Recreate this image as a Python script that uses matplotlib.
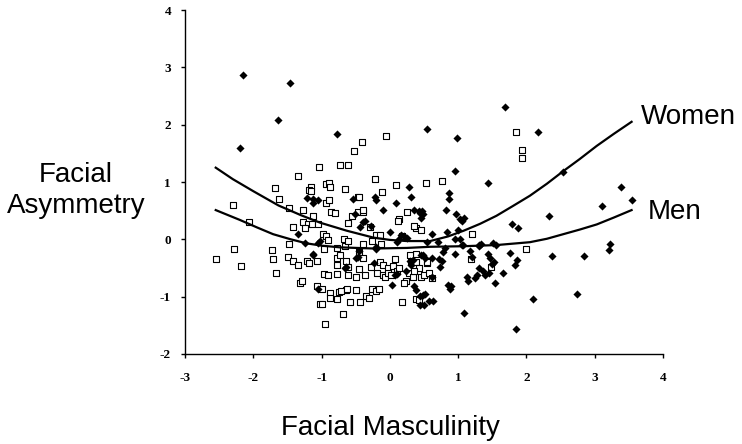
import matplotlib
matplotlib.use("Agg")
import matplotlib.pyplot as plt

plt.rcParams['axes.unicode_minus'] = False

# women (open squares): facial masculinity, facial asymmetry
women_x = [-2.55, -2.28, -2.18, -2.29, -2.07, -1.72, -1.71, -1.67, -1.68, -1.62, -1.47, -1.27,
           -1.42, -1.47, -1.49, -1.42, -1.34, -1.34, -1.04, -0.73, -0.61, -0.53, -0.41, -0.06,
           -1.16, -0.94, -0.89, -0.88, -1.19, -1.16, -0.66, -0.22, -0.12, 0.09, 0.53, 0.77,
           1.85, 1.93, 1.94, 1.20, 1.99, 1.19, -1.27, -1.20, -1.14, -1.12, -1.05, -1.25,
           -1.22, -1.07, -1.31, -1.28, -1.06, -1.00, -1.02, -1.00, -0.95, -0.96, -0.98, -0.93,
           -0.93, -0.89, -0.86, -0.81, -0.96, -0.90, -0.78, -0.78, -0.78, -0.73, -0.87, -0.78,
           -0.75, -0.67, -0.65, -0.64, -0.62, -0.62, -0.64, -0.59, -0.68, -0.62, -0.47, -0.46,
           -0.29, -0.39, -0.45, -0.39, -0.45, -0.36, -0.49, -0.49, -0.44, -0.35, -0.26, -0.27,
           -0.26, -0.20, -0.19, -0.14, -0.10, -0.10, -0.07, -0.03, -0.03, 0.02, 0.05, 0.07,
           0.10, 0.14, 0.14, 0.18, 0.24, 0.28, 0.34, 0.31, 0.25, 0.38, 0.39, 0.38, 0.45, 0.38,
           -0.45, -0.40, -0.56, 0.12, -0.14, 0.35, 0.46, -0.91, -0.77, -0.62, -0.40, -0.13,
           0.54, 0.42, 0.50, 0.58, 0.62, 0.35, 0.42, 0.21, -1.19, -0.71, -0.63, -0.87, -0.21,
           -0.16, -0.31, 0.18, 1.48, 0.30, 0.55]
women_y = [-0.34, -0.16, -0.47, 0.60, 0.31, -0.19, -0.35, -0.58, 0.90, 0.70, 0.55, 0.51,
           0.21, -0.08, -0.31, -0.37, -0.45, 1.10, 1.26, 1.29, 1.29, 1.54, 1.70, 1.80,
           0.92, 0.96, 0.99, 0.92, 0.86, 0.84, 0.87, 1.05, 0.83, 0.95, 0.99, 1.02,
           1.88, 1.56, 1.42, 0.10, -0.17, -0.35, 0.30, 0.27, 0.27, 0.41, 0.27, 0.20,
           -0.38, -0.38, -0.77, -0.72, -0.81, -0.86, -1.12, -1.13, -1.48, -0.17, 0.10, 0.06,
           0.64, 0.68, 0.48, 0.46, -0.61, -0.63, -0.44, -0.61, -0.32, -0.28, -0.93, -1.04,
           -0.91, 0.00, -0.12, -0.37, -0.48, -0.62, -0.88, -1.09, -1.30, 0.29, 0.74, 0.47,
           0.21, 0.47, -0.22, -0.33, -0.52, -0.63, -0.65, -0.88, -1.09, -0.98, -0.87, -0.48,
           -0.03, 0.08, -0.59, -0.39, -0.44, -0.63, -0.66, -0.50, -0.58, -0.63, -0.46, -0.35,
           -0.55, 0.35, -0.50, -1.09, -0.73, -0.59, -0.66, -0.40, 0.47, -0.40, 0.19, -0.26, -0.66, -1.04,
           0.74, 0.51, 0.41, 0.32, 0.08, 0.24, 0.16, -0.02, -0.15, -0.03, -0.09, -0.09,
           -0.42, -0.50, -0.62, -0.58, -0.68, -0.55, -1.05, -0.76, -0.42, -0.90, -0.87, -1.02, -0.90,
           -0.86, -1.02, 0.05, -0.48, -0.27, -0.40]

# men (filled diamonds)
men_x = [-2.15, -1.46, -1.64, -2.20, -0.77, 0.54, 1.69, 0.98, 2.17, 0.95, 1.43, 0.28, 0.31,
         0.86, 0.86, 0.82, 2.53, 3.39, 3.55, 3.11, 2.33, 1.79, 1.87, 0.47, 0.49, 0.97, 1.08,
         1.05, 1.00, 0.83, 3.23, 3.21, 2.37, 2.84, 1.51, 1.08, 1.85, 2.10, 2.74, 1.54, 1.66,
         1.76, 1.86, 1.83, 1.52, 1.44, 1.47, 1.49, 1.33, 1.30, 1.17, 0.95, 1.30, 1.36, 1.40,
         1.45, 1.27, 1.25, 1.13, 1.15, 0.85, 0.89, 0.88, 0.63, 0.50, 0.44, 0.52, 0.49, 0.76,
         0.72, 0.73, 0.30, 0.31, -1.21, -1.13, -1.05, -1.12, -1.34, -1.25, -1.13, -1.05, -1.05,
         -0.54, -0.40, -0.28, -0.45, -0.50, -0.47, -0.66, -0.22, -0.21, -0.10, 0.09, 0.36, 0.42,
         0.44, 0.46, 0.00, -0.20, 0.10, 0.17, 0.21, 0.25, 0.34, 0.46, 0.52, 0.07, 0.03, 0.36,
         0.39, 0.48, 0.44, 0.58, 0.61, 0.61, -0.36, -0.51, -0.44, -1.12, -1.03, -0.64, -0.23,
         -0.21, 0.11, 0.24, 0.14, 0.81, 0.78, 1.05, 0.70, 0.62, 0.55, 1.20,
         1.03, 0.95, 1.03, 1.07, 1.30, 1.56]
men_y = [2.86, 2.72, 2.08, 1.60, 1.84, 1.93, 2.30, 1.77, 1.87, 1.19, 0.98, 0.92, 0.73,
         0.80, 0.71, 0.52, 1.17, 0.92, 0.69, 0.59, 0.41, 0.26, 0.19, 0.50, 0.45, 0.44, 0.38,
         0.32, 0.16, 0.13, -0.08, -0.19, -0.29, -0.29, -0.07, -1.28, -1.57, -1.04, -0.95, -0.77, -0.58,
         -0.24, -0.36, -0.45, -0.40, -0.26, -0.32, -0.43, -0.08, -0.10, -0.20, -0.26, -0.50, -0.55, -0.62,
         -0.58, -0.62, -0.67, -0.65, -0.72, -0.80, -0.82, -0.87, -1.08, -1.15, -0.99, -0.95, -0.27, -0.37,
         -0.35, -0.49, -0.38, -0.45, 0.72, 0.63, 0.69, 0.70, 0.09, -0.06, -0.28, -0.06, -0.87,
         0.70, 0.30, 0.24, -0.20, -0.33, -0.30, -0.50, 0.73, 0.68, 0.52, 0.64, 0.51, 0.50,
         0.46, 0.37, 0.13, -0.16, -0.04, 0.08, 0.05, 0.03, -0.36, -0.28, -0.33, -0.63, -0.80, -0.81,
         -0.88, -0.97, -1.15, -1.07, -0.33, -0.65, 0.32, 0.45, 0.22, -0.26, -0.03, -0.49, -0.42,
         -0.14, -0.60, -0.56, 0.00, -0.15, -0.22, -0.10, -0.05, 0.10, -0.05, -0.30,
         0.35, 0.00, 0.00, -0.10, -0.12, -0.10]

# fitted curves
women_fit_x = [-2.55, -2.3, -2.0, -1.63, -1.3, -1.02, -0.63, -0.24, 0.0, 0.25, 0.59, 0.85,
               1.08, 1.32, 1.56, 1.8, 2.05, 2.3, 2.54, 2.78, 3.03, 3.28, 3.54]
women_fit_y = [1.25, 1.05, 0.84, 0.59, 0.42, 0.29, 0.15, 0.03, -0.01, -0.03, -0.03, 0.05,
               0.15, 0.27, 0.41, 0.58, 0.76, 0.97, 1.19, 1.40, 1.63, 1.84, 2.05]
men_fit_x = [-2.55, -2.2, -1.95, -1.71, -1.45, -1.22, -1.0, -0.73, -0.24, 0.25, 0.59, 1.08,
             1.56, 2.05, 2.3, 2.54, 2.78, 3.03, 3.28, 3.54]
men_fit_y = [0.51, 0.34, 0.21, 0.09, 0.0, -0.07, -0.11, -0.14, -0.16, -0.15, -0.13, -0.12,
             -0.10, -0.05, 0.01, 0.09, 0.17, 0.26, 0.38, 0.51]

xticks = [-3, -2, -1, 0, 1, 2, 3, 4]
yticks = [-2, -1, 0, 1, 2, 3, 4]

fig = plt.figure(figsize=(7.42, 4.44), dpi=100)
ax = fig.add_axes([185 / 742, 1 - 354 / 444, (663 - 185) / 742, (354 - 10) / 444])

ax.scatter(women_x, women_y, marker='s', s=20, facecolors='white', edgecolors='black',
           linewidths=0.8, zorder=2)
ax.scatter(men_x, men_y, marker='D', s=17, color='black', linewidths=0, zorder=3)
ax.plot(women_fit_x, women_fit_y, color='black', lw=1.6, zorder=4)
ax.plot(men_fit_x, men_fit_y, color='black', lw=1.6, zorder=4)

ax.set_xlim(-3, 4)
ax.set_ylim(-2, 4)
ax.set_xticks(xticks)
ax.set_yticks(yticks)
for s in ['top', 'right']:
    ax.spines[s].set_visible(False)
for s in ['left', 'bottom']:
    ax.spines[s].set_linewidth(1.0)
ax.tick_params(axis='x', direction='out', length=3, width=1, pad=10)
ax.tick_params(axis='y', direction='out', length=3, width=1, pad=7)
for lab in ax.get_xticklabels() + ax.get_yticklabels():
    lab.set_fontfamily('Liberation Serif')
    lab.set_fontsize(9.5)
    lab.set_fontweight('bold')

fig.text(76 / 742, 1 - 190 / 444, "Facial\nAsymmetry", ha='center', va='center',
         fontsize=20, family='Liberation Sans', linespacing=1.25)
fig.text(390 / 742, 1 - 428 / 444, "Facial Masculinity", ha='center', va='center',
         fontsize=20, family='Liberation Sans')
fig.text(641 / 742, 1 - 117 / 444, "Women", ha='left', va='center',
         fontsize=20, family='Liberation Sans')
fig.text(648 / 742, 1 - 212 / 444, "Men", ha='left', va='center',
         fontsize=20, family='Liberation Sans')

fig.savefig("out.png", dpi=100)
